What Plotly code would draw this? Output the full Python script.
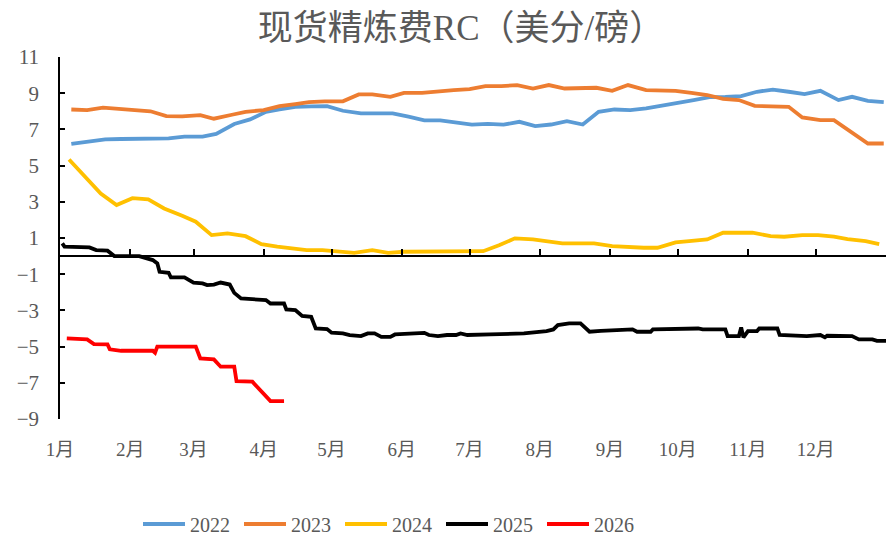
import plotly.graph_objects as go

# ---- data (x = day offset from Jan 1, y = US cents / lb) ----
month_starts = [0, 31, 59, 90, 120, 151, 181, 212, 243, 273, 304, 334]
month_labels = ["1月", "2月", "3月", "4月", "5月", "6月", "7月", "8月", "9月", "10月", "11月", "12月"]
y_ticks = [-9, -7, -5, -3, -1, 1, 3, 5, 7, 9, 11]

days_2022 = [5, 12, 20, 27, 34, 41, 48, 55, 63, 69, 77, 84, 91, 97, 104, 111, 118, 125, 133, 140,
             147, 154, 161, 168, 175, 182, 189, 196, 203, 210, 217, 224, 231, 238, 245, 252, 259,
             266, 273, 280, 287, 294, 301, 308, 315, 322, 329, 336, 344, 350, 357, 364]
rc_2022 = [6.2, 6.3, 6.45, 6.47, 6.48, 6.49, 6.5, 6.6, 6.6, 6.75, 7.3, 7.55, 7.97, 8.1, 8.25, 8.27,
           8.28, 8.03, 7.88, 7.88, 7.88, 7.7, 7.5, 7.5, 7.37, 7.26, 7.3, 7.26, 7.42, 7.18, 7.27, 7.46,
           7.27, 7.97, 8.1, 8.07, 8.16, 8.34, 8.47, 8.62, 8.78, 8.8, 8.84, 9.08, 9.2, 9.08, 8.95, 9.13,
           8.62, 8.8, 8.58, 8.51]

days_2023 = [5, 12, 19, 26, 33, 40, 47, 54, 62, 68, 76, 82, 90, 97, 104, 110, 117, 125, 132, 138,
             146, 152, 160, 167, 174, 181, 188, 195, 202, 209, 216, 223, 231, 237, 244, 251, 259,
             265, 272, 279, 286, 293, 300, 307, 315, 322, 328, 336, 342, 350, 357, 364]
rc_2023 = [8.1, 8.07, 8.2, 8.12, 8.03, 8.0, 7.73, 7.72, 7.79, 7.59, 7.81, 7.97, 8.07, 8.29, 8.4, 8.51,
           8.55, 8.55, 8.93, 8.93, 8.8, 9.02, 9.02, 9.12, 9.17, 9.23, 9.39, 9.39, 9.45, 9.26, 9.45,
           9.26, 9.3, 9.3, 9.13, 9.45, 9.17, 9.13, 9.13, 9.02, 8.9, 8.69, 8.62, 8.3, 8.25, 8.25, 7.66,
           7.51, 7.51, 6.83, 6.22, 6.22]

days_2024 = [4, 11, 18, 25, 32, 39, 46, 54, 60, 67, 74, 82, 89, 96, 105, 109, 116, 124, 130, 138,
             145, 152, 159, 166, 173, 180, 187, 194, 201, 209, 216, 222, 230, 236, 244, 250, 258,
             264, 272, 278, 286, 293, 300, 306, 314, 320, 328, 335, 342, 348, 356, 362]
rc_2024 = [5.34, 4.38, 3.46, 2.82, 3.2, 3.13, 2.63, 2.23, 1.9, 1.16, 1.25, 1.1, 0.66, 0.52, 0.37, 0.33,
           0.33, 0.24, 0.18, 0.33, 0.18, 0.24, 0.24, 0.24, 0.24, 0.25, 0.27, 0.6, 0.98, 0.92, 0.79,
           0.7, 0.7, 0.7, 0.55, 0.5, 0.46, 0.46, 0.76, 0.83, 0.92, 1.29, 1.29, 1.29, 1.1, 1.07, 1.16,
           1.16, 1.07, 0.94, 0.83, 0.66]

days_2025 = [1, 2, 13, 16, 21, 24, 35, 38, 41, 43, 44, 48, 49, 55, 59, 63, 65, 68, 71, 75, 77, 80,
             85, 88, 91, 93, 99, 100, 104, 107, 111, 113, 118, 120, 125, 128, 133, 136, 139, 142,
             146, 148, 158, 161, 163, 167, 171, 175, 177, 180, 190, 205, 215, 218, 220, 225, 230,
             233, 234, 239, 244, 253, 255, 261, 262, 274, 282, 284, 294, 295, 300, 301, 302, 304,
             308, 309, 317, 318, 330, 336, 338, 339, 350, 353, 359, 361, 365]
rc_2025 = [0.7, 0.52, 0.48, 0.33, 0.3, 0.0, 0.0, -0.13, -0.22, -0.4, -0.87, -0.92, -1.18, -1.18,
           -1.47, -1.51, -1.6, -1.57, -1.46, -1.57, -2.03, -2.34, -2.39, -2.43, -2.43, -2.62, -2.62,
           -2.95, -2.98, -3.31, -3.35, -4.0, -4.03, -4.23, -4.27, -4.36, -4.42, -4.27, -4.27, -4.46,
           -4.46, -4.33, -4.27, -4.24, -4.36, -4.42, -4.36, -4.36, -4.27, -4.36, -4.33, -4.27, -4.14,
           -4.05, -3.81, -3.72, -3.72, -4.05, -4.18, -4.13, -4.09, -4.05, -4.18, -4.18, -4.05, -4.0,
           -4.0, -4.05, -4.05, -4.42, -4.42, -3.94, -4.49, -4.14, -4.14, -4.0, -4.0, -4.36, -4.42,
           -4.36, -4.49, -4.4, -4.42, -4.6, -4.6, -4.68, -4.68]

days_2026 = [3, 12, 15, 21, 22, 27, 41, 42, 43, 60, 62, 68, 71, 77, 78, 85, 93, 99]
rc_2026 = [-4.55, -4.6, -4.86, -4.88, -5.15, -5.23, -5.23, -5.34, -5.0, -5.0, -5.65, -5.71, -6.11,
           -6.11, -6.91, -6.94, -8.01, -8.01]

series = [
    ("2022", days_2022, rc_2022, "#5B9BD5"),
    ("2023", days_2023, rc_2023, "#ED7D31"),
    ("2024", days_2024, rc_2024, "#FFC000"),
    ("2025", days_2025, rc_2025, "#000000"),
    ("2026", days_2026, rc_2026, "#FF0000"),
]

FONT = "Liberation Serif, Noto Sans CJK SC, serif"
GRAY = "#595959"

fig = go.Figure()
# invisible helper trace so the zero-crossing category axis (x2) is drawn
fig.add_trace(go.Scatter(x=[month_starts[0]], y=[None], xaxis="x2", mode="lines",
                         showlegend=False, hoverinfo="skip"))
for name, d, v, c in series:
    fig.add_trace(go.Scatter(x=d, y=v, name=name, mode="lines",
                             line=dict(color=c, width=3.8)))

x_range = [0, 365]
fig.update_layout(
    width=886, height=536,
    margin=dict(l=60, r=0, t=57, b=117, autoexpand=False),
    paper_bgcolor="white", plot_bgcolor="white",
    font=dict(family=FONT, color=GRAY, size=19),
    title=dict(text="现货精炼费RC（美分/磅）", x=461 / 886, xanchor="center",
               y=1 - 28 / 536, yanchor="middle",
               font=dict(family=FONT, size=35, color=GRAY)),
    xaxis=dict(range=x_range, tickvals=month_starts, ticktext=month_labels,
               showgrid=False, zeroline=False, showline=False,
               ticks="outside", ticklen=13, tickcolor="rgba(0,0,0,0)",
               tickfont=dict(size=19, color=GRAY)),
    xaxis2=dict(range=x_range, overlaying="x", anchor="free", position=0.45,
                side="bottom", showline=True, linecolor="black", linewidth=1.5,
                ticks="inside", ticklen=6, tickwidth=1.5, tickcolor="black",
                tickvals=month_starts, showticklabels=False, showgrid=False, zeroline=False),
    yaxis=dict(range=[-9, 11], tickvals=y_ticks, showgrid=False, zeroline=False,
               showline=True, linecolor="black", linewidth=1.5,
               ticks="inside", ticklen=5, tickwidth=1.5, tickcolor="black",
               ticklabelstandoff=15, tickfont=dict(size=21, color=GRAY)),
    legend=dict(orientation="h", xref="container", yref="container",
                x=138 / 886, xanchor="left", y=1 - 524 / 536, yanchor="middle",
                entrywidth=44, entrywidthmode="pixels", itemwidth=42,
                font=dict(size=20, color=GRAY), bgcolor="rgba(0,0,0,0)"),
    showlegend=True,
)

fig.write_html("out.html", config={"displayModeBar": False},
               post_script="document.body.style.margin='0px';")
